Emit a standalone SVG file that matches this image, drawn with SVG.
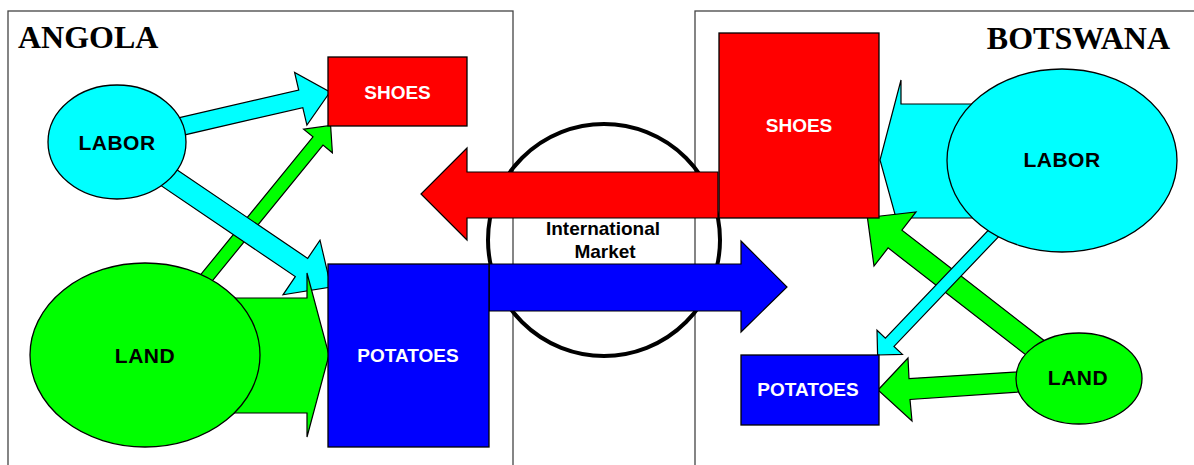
<svg xmlns="http://www.w3.org/2000/svg" width="1194" height="465" viewBox="0 0 1194 465">
<style>
.panel{fill:#fff;stroke:#444;stroke-width:1.3}
.ar{stroke:#000;stroke-width:1.2;stroke-linejoin:miter}
.cy{fill:#00ffff}.gr{fill:#00ff00}.rd{fill:#ff0000}.bl{fill:#0000ff}
.node{stroke:#000;stroke-width:1.3}
.title{font-family:"Liberation Serif","Times New Roman",serif;font-weight:bold;font-size:32px;fill:#000}
.lbl{font-family:"Liberation Sans",Arial,sans-serif;font-weight:bold;font-size:19px;text-anchor:middle}
.elbl{font-family:"Liberation Sans",Arial,sans-serif;font-weight:bold;font-size:21px;text-anchor:middle;fill:#000;letter-spacing:0.5px}
.w{fill:#fff}
.mk{font-family:"Liberation Sans",Arial,sans-serif;font-weight:bold;font-size:19px;text-anchor:middle;fill:#000}
</style>
<rect width="1194" height="465" fill="#fff"/>
<g id="angola-panel">
<rect class="panel" x="8" y="11" width="505" height="470"/>
<text class="title" x="18" y="48">ANGOLA</text>
</g>
<g id="botswana-panel">
<rect class="panel" x="695" y="11" width="520" height="470"/>
<text class="title" x="1170" y="49" text-anchor="end">BOTSWANA</text>
</g>
<g id="international-market">
<circle cx="604" cy="240" r="116" fill="none" stroke="#000" stroke-width="4"/>
<text class="mk" x="603" y="235">International</text>
<text class="mk" x="605" y="258">Market</text>
</g>
<g id="connectors">
<polygon class="ar cy" points="162.2,121.6 298.7,90 294.6,72.5 330,92 306.9,125.1 302.8,107.6 166.3,139.2"/>
<polygon class="ar gr" points="186.6,291.9 313,136.9 303.6,129.2 330.6,125.5 332.4,152.8 323,145.1 196.6,300.1"/>
<polygon class="ar cy" points="166.9,163 307.7,258.4 320,240.2 331,287 283,294.8 295.3,276.6 154.5,181.2"/>
<polygon class="ar gr" points="200,298 307,298 307,273 329,355 307,437 307,413 200,413"/>
<polygon class="ar rd" points="718,172 467,172 467,148 421,194 467,240 467,218 718,218"/>
<polygon class="ar bl" points="489,264 741,264 741,241 787,287 741,332 741,311 489,311"/>
<polygon class="ar cy" points="1000,104 901,104 901,80 880,160 896,218 1000,218"/>
<polygon class="ar gr" points="867.4,217.5 916,211.9 901.9,230.1 1059.9,352.7 1046.1,370.5 888.1,247.9 874,266.1"/>
<polygon class="ar cy" points="877.6,355 877,330.2 885.4,338.2 1023.4,193.4 1032,201.6 894,346.4 902.4,354.4"/>
<polygon class="ar gr" points="878,390 908,358 909,378.5 1040,370.5 1041,390.5 910,399.5 912,421"/>
</g>
<g id="angola-labor">
<ellipse class="node cy" cx="117" cy="142" rx="69" ry="57"/>
<text class="elbl" x="117" y="150">LABOR</text>
</g>
<g id="angola-land">
<ellipse class="node gr" cx="145" cy="355" rx="115" ry="92"/>
<text class="elbl" x="145" y="363">LAND</text>
</g>
<g id="angola-shoes">
<rect class="node rd" x="328" y="57" width="139" height="69"/>
<text class="lbl w" x="397.5" y="99">SHOES</text>
</g>
<g id="angola-potatoes">
<rect class="node bl" x="328" y="264" width="161" height="183"/>
<text class="lbl w" x="408" y="362">POTATOES</text>
</g>
<g id="botswana-shoes">
<rect class="node rd" x="719" y="33" width="160" height="185"/>
<text class="lbl w" x="799" y="132">SHOES</text>
</g>
<g id="botswana-labor">
<ellipse class="node cy" cx="1062" cy="160.5" rx="115" ry="91.5"/>
<text class="elbl" x="1062" y="167">LABOR</text>
</g>
<g id="botswana-potatoes">
<rect class="node bl" x="741" y="355" width="138" height="70"/>
<text class="lbl w" x="808" y="396">POTATOES</text>
</g>
<g id="botswana-land">
<ellipse class="node gr" cx="1079" cy="378.5" rx="63" ry="45.5"/>
<text class="elbl" x="1078" y="385">LAND</text>
</g>
</svg>
